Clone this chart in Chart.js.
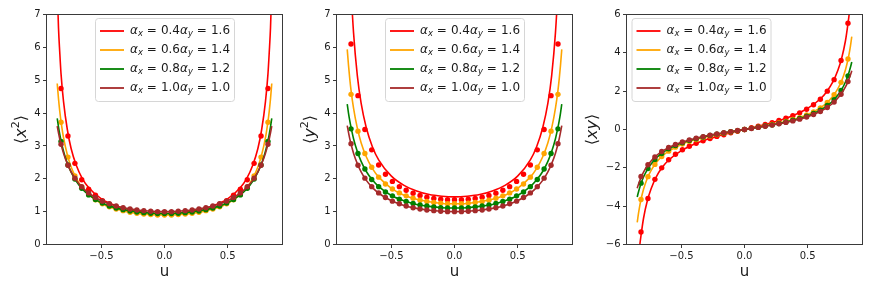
<!DOCTYPE html>
<html>
<head>
<meta charset="utf-8">
<script src="https://cdn.jsdelivr.net/npm/chart.js@4.4.0/dist/chart.umd.min.js"></script>
<style>
  body { margin: 0; background: #fff; }
  #wrap { position: relative; width: 872px; height: 291px; }
  #wrap canvas { position: absolute; top: 0; }
</style>
</head>
<body>
<div id="wrap">
  <canvas id="c1" width="290" height="291" style="left:0px"></canvas>
  <canvas id="c2" width="290" height="291" style="left:290px"></canvas>
  <canvas id="c3" width="292" height="291" style="left:580px"></canvas>
</div>
<script>
// series: alpha_x / alpha_y pairs and their colours
const alphaX = ['0.4', '0.6', '0.8', '1.0'];
const alphaY = ['1.6', '1.4', '1.2', '1.0'];
const colors = ['#ff0000', '#ffa500', '#008000', '#a52a2a'];

// u values of the solid curves and of the dots
const lineU = [-0.85,-0.84,-0.83,-0.82,-0.80,-0.77,-0.74,-0.70,-0.65,-0.60,-0.50,-0.40,-0.30,-0.20,-0.10,0,0.10,0.20,0.30,0.40,0.50,0.60,0.65,0.70,0.74,0.77,0.80,0.82,0.83,0.84,0.85];
const dotU = [-0.82,-0.765,-0.71,-0.656,-0.601,-0.547,-0.492,-0.437,-0.383,-0.328,-0.273,-0.219,-0.164,-0.109,-0.055,0,0.055,0.109,0.164,0.219,0.273,0.328,0.383,0.437,0.492,0.547,0.601,0.656,0.71,0.765,0.82];

const xTicks = [-0.5, 0, 0.5];
const sqTicks = [0, 1, 2, 3, 4, 5, 6, 7];
const xyTicks = [-6, -4, -2, 0, 2, 4, 6];

// <x^2>
const x2LineRed = [7.8,6.6,5.85,5.2,4.35,3.5,2.92,2.42,2.0,1.73,1.39,1.2,1.08,1.0,0.96,0.95,0.96,1.0,1.08,1.2,1.39,1.73,2.0,2.42,2.92,3.5,4.35,5.2,5.85,6.6,7.8];
const x2LineOrange = [4.90,4.44,4.06,3.75,3.25,2.73,2.36,2.02,1.72,1.52,1.25,1.10,1.00,0.94,0.91,0.90,0.91,0.94,1.00,1.10,1.25,1.52,1.72,2.02,2.36,2.73,3.25,3.75,4.06,4.44,4.90];
const x2LineGreen = [3.84,3.58,3.36,3.16,2.84,2.47,2.20,1.93,1.68,1.51,1.27,1.13,1.04,0.98,0.95,0.94,0.95,0.98,1.04,1.13,1.27,1.51,1.68,1.93,2.20,2.47,2.84,3.16,3.36,3.58,3.84];
const x2LineBrown = [3.60,3.40,3.21,3.05,2.78,2.46,2.21,1.96,1.73,1.56,1.33,1.19,1.10,1.04,1.01,1.00,1.01,1.04,1.10,1.19,1.33,1.56,1.73,1.96,2.21,2.46,2.78,3.05,3.21,3.40,3.60];
const x2DotRed = [4.75,3.30,2.47,1.97,1.68,1.50,1.33,1.23,1.15,1.09,1.04,1.00,0.97,0.95,0.94,0.94,0.94,0.95,0.97,1.00,1.04,1.09,1.15,1.23,1.33,1.50,1.68,1.97,2.47,3.30,4.75];
const x2DotOrange = [3.72,2.66,2.09,1.75,1.52,1.36,1.24,1.15,1.08,1.03,0.98,0.95,0.93,0.91,0.90,0.90,0.90,0.91,0.93,0.95,0.98,1.03,1.08,1.15,1.24,1.36,1.52,1.75,2.09,2.66,3.72];
const x2DotGreen = [3.14,2.42,1.99,1.71,1.51,1.37,1.26,1.17,1.11,1.06,1.02,0.99,0.97,0.95,0.94,0.94,0.94,0.95,0.97,0.99,1.02,1.06,1.11,1.17,1.26,1.37,1.51,1.71,1.99,2.42,3.14];
const x2DotBrown = [3.05,2.41,2.02,1.76,1.57,1.43,1.32,1.24,1.17,1.12,1.08,1.05,1.03,1.01,1.00,1.00,1.00,1.01,1.03,1.05,1.08,1.12,1.17,1.24,1.32,1.43,1.57,1.76,2.02,2.41,3.05];

// <y^2>
const y2LineRed = [11.6,9.97,8.75,7.81,6.45,5.14,4.30,3.57,2.97,2.57,2.08,1.80,1.63,1.52,1.47,1.45,1.47,1.52,1.63,1.80,2.08,2.57,2.97,3.57,4.30,5.14,6.45,7.81,8.75,9.97,11.6];
const y2LineOrange = [5.94,5.46,5.05,4.70,4.15,3.54,3.10,2.68,2.31,2.05,1.71,1.50,1.38,1.30,1.25,1.24,1.25,1.30,1.38,1.50,1.71,2.05,2.31,2.68,3.10,3.54,4.15,4.70,5.05,5.46,5.94];
const y2LineGreen = [4.27,4.00,3.77,3.57,3.22,2.83,2.53,2.23,1.96,1.76,1.49,1.33,1.22,1.16,1.12,1.11,1.12,1.16,1.22,1.33,1.49,1.76,1.96,2.23,2.53,2.83,3.22,3.57,3.77,4.00,4.27];
const y2LineBrown = [3.62,3.41,3.22,3.06,2.78,2.46,2.21,1.96,1.73,1.56,1.33,1.19,1.10,1.04,1.01,1.00,1.01,1.04,1.10,1.19,1.33,1.56,1.73,1.96,2.21,2.46,2.78,3.06,3.22,3.41,3.62];
const y2DotRed = [6.10,4.53,3.50,2.88,2.42,2.14,1.92,1.76,1.65,1.56,1.49,1.44,1.40,1.38,1.36,1.36,1.36,1.38,1.40,1.44,1.49,1.56,1.65,1.76,1.92,2.14,2.42,2.88,3.50,4.53,6.10];
const y2DotOrange = [4.57,3.45,2.77,2.35,2.05,1.84,1.69,1.57,1.48,1.41,1.35,1.31,1.28,1.26,1.24,1.24,1.24,1.26,1.28,1.31,1.35,1.41,1.48,1.57,1.69,1.84,2.05,2.35,2.77,3.45,4.57];
const y2DotGreen = [3.52,2.77,2.30,1.98,1.76,1.60,1.48,1.38,1.31,1.25,1.20,1.17,1.14,1.12,1.11,1.11,1.11,1.12,1.14,1.17,1.20,1.25,1.31,1.38,1.48,1.60,1.76,1.98,2.30,2.77,3.52];
const y2DotBrown = [3.07,2.41,2.02,1.76,1.57,1.43,1.32,1.24,1.17,1.12,1.08,1.05,1.03,1.01,1.00,1.00,1.00,1.01,1.03,1.05,1.08,1.12,1.17,1.24,1.32,1.43,1.57,1.76,2.02,2.41,3.07];

// <xy>
const xyLineRed = [-7.55,-6.72,-6.05,-5.53,-4.63,-3.72,-3.09,-2.48,-1.96,-1.59,-1.10,-0.77,-0.52,-0.33,-0.16,0,0.16,0.33,0.52,0.77,1.10,1.59,1.96,2.48,3.09,3.72,4.63,5.53,6.05,6.72,7.55];
const xyLineOrange = [-4.85,-4.38,-3.98,-3.65,-3.12,-2.54,-2.13,-1.73,-1.38,-1.13,-0.78,-0.55,-0.38,-0.24,-0.11,0,0.11,0.24,0.38,0.55,0.78,1.13,1.38,1.73,2.13,2.54,3.12,3.65,3.98,4.38,4.85];
const xyLineGreen = [-3.52,-3.26,-3.03,-2.82,-2.48,-2.09,-1.80,-1.49,-1.22,-1.01,-0.71,-0.51,-0.35,-0.22,-0.11,0,0.11,0.22,0.35,0.51,0.71,1.01,1.22,1.49,1.80,2.09,2.48,2.82,3.03,3.26,3.52];
const xyLineBrown = [-3.06,-2.86,-2.67,-2.50,-2.22,-1.89,-1.64,-1.37,-1.13,-0.94,-0.67,-0.48,-0.33,-0.21,-0.10,0,0.10,0.21,0.33,0.48,0.67,0.94,1.13,1.37,1.64,1.89,2.22,2.50,2.67,2.86,3.06];
const xyDotRed = [-5.35,-3.60,-2.60,-2.00,-1.58,-1.29,-1.06,-0.87,-0.72,-0.59,-0.47,-0.36,-0.27,-0.17,-0.09,0,0.09,0.17,0.27,0.36,0.47,0.59,0.72,0.87,1.06,1.29,1.58,2.00,2.60,3.60,5.55];
const xyDotOrange = [-3.65,-2.46,-1.82,-1.41,-1.13,-0.92,-0.76,-0.62,-0.52,-0.42,-0.34,-0.26,-0.19,-0.12,-0.06,0,0.06,0.12,0.19,0.26,0.34,0.42,0.52,0.62,0.76,0.92,1.13,1.41,1.82,2.46,3.68];
const xyDotGreen = [-2.80,-2.04,-1.56,-1.25,-1.01,-0.84,-0.69,-0.58,-0.48,-0.39,-0.31,-0.24,-0.18,-0.12,-0.06,0,0.06,0.12,0.18,0.24,0.31,0.39,0.48,0.58,0.69,0.84,1.01,1.25,1.56,2.04,2.80];
const xyDotBrown = [-2.45,-1.84,-1.43,-1.15,-0.94,-0.78,-0.65,-0.54,-0.45,-0.37,-0.30,-0.23,-0.17,-0.11,-0.055,0,0.055,0.11,0.17,0.23,0.30,0.37,0.45,0.54,0.65,0.78,0.94,1.15,1.43,1.84,2.50];

const FONT = '"DejaVu Sans", sans-serif';
const INK = '#1a1a1a';
const AXIS = '#3a3a3a';

function toXY(xs, ys) {
    return xs.map((x, i) => ({x: x, y: ys[i]}));
}

function fmt(v, digits) {
    return (v < 0 ? '\u2212' : '') + Math.abs(v).toFixed(digits);
}

// draws a list of text runs (italic / sub / superscript), returns the end x
function runs(ctx, list, x, y, size, draw) {
    for (const r of list) {
        const small = r.sub || r.sup;
        const s = small ? size * 0.7 : size;
        ctx.font = (r.it ? 'italic ' : '') + s + 'px ' + FONT;
        const dy = r.sub ? size * 0.24 : (r.sup ? -size * 0.36 : 0);
        x += r.pre || 0;
        if (draw) ctx.fillText(r.t, x, y + dy);
        x += ctx.measureText(r.t).width + (r.post || 0);
    }
    return x;
}

function legendRuns(i) {
    return [
        {t: 'α', it: 1}, {t: 'x', it: 1, sub: 1},
        {t: '=', pre: 4, post: 4}, {t: alphaX[i]},
        {t: 'α', it: 1}, {t: 'y', it: 1, sub: 1},
        {t: '=', pre: 4, post: 4}, {t: alphaY[i]}
    ];
}

const decor = {
    id: 'decor',
    afterDraw(chart, args, opts) {
        const {ctx, chartArea: a} = chart;
        ctx.save();
        // frame
        ctx.strokeStyle = AXIS;
        ctx.lineWidth = 1;
        ctx.strokeRect(a.left, a.top, a.right - a.left, a.bottom - a.top);

        // y axis label, rotated
        ctx.fillStyle = INK;
        ctx.textBaseline = 'middle';
        ctx.save();
        ctx.translate(opts.labelX, (a.top + a.bottom) / 2);
        ctx.rotate(-Math.PI / 2);
        const w = runs(ctx, opts.label, 0, 0, 16, false);
        runs(ctx, opts.label, -w / 2, 0, 16, true);
        ctx.restore();

        // legend box
        const bw = 139, bh = 83;
        const bx = opts.legend === 'left' ? a.left + 5 : (a.left + a.right) / 2 - bw / 2;
        const by = a.top + 3.5;
        ctx.beginPath();
        ctx.roundRect(bx + 0.5, by + 0.5, bw, bh, 3);
        ctx.fillStyle = 'rgba(255,255,255,0.8)';
        ctx.fill();
        ctx.strokeStyle = '#d6d6d6';
        ctx.stroke();
        for (let i = 0; i < alphaX.length; i++) {
            const ry = by + 13 + i * 19;
            ctx.strokeStyle = colors[i];
            ctx.lineWidth = 1.8;
            ctx.beginPath();
            ctx.moveTo(bx + 5, ry);
            ctx.lineTo(bx + 29, ry);
            ctx.stroke();
            ctx.fillStyle = INK;
            runs(ctx, legendRuns(i), bx + 35, ry, 12, true);
        }
        ctx.restore();
    }
};

function makePanel(id, p) {
    const datasets = [];
    colors.forEach((c, i) => {
        const name = 'αx = ' + alphaX[i] + 'αy = ' + alphaY[i];
        datasets.push({
            type: 'line', label: name, data: toXY(lineU, p.lines[i]),
            borderColor: c, borderWidth: 1.6, pointRadius: 0,
            cubicInterpolationMode: 'monotone', order: 8 - 2 * i
        });
        datasets.push({
            type: 'scatter', label: name, data: toXY(dotU, p.dots[i]),
            backgroundColor: c, pointRadius: 2.7, pointBorderWidth: 0,
            order: 7 - 2 * i
        });
    });

    const tickFont = {family: FONT, size: 10};
    const grid = {display: true, drawOnChartArea: false, drawTicks: true, tickLength: 3.5, color: AXIS};

    return new Chart(document.getElementById(id), {
        data: {datasets: datasets},
        options: {
            responsive: false,
            devicePixelRatio: 1,
            animation: false,
            layout: {padding: {left: 0, right: p.right, top: 14.5, bottom: 0}},
            scales: {
                x: {
                    type: 'linear', min: -0.935, max: 0.935,
                    afterBuildTicks: sc => { sc.ticks = xTicks.map(v => ({value: v})); },
                    afterFit: sc => { sc.height = 46.5; },
                    ticks: {callback: v => fmt(v, 1), font: tickFont, color: INK, padding: 2.5, maxRotation: 0},
                    grid: grid,
                    border: {display: false},
                    title: {display: true, text: 'u', font: {family: FONT, size: 15}, color: INK, padding: {top: 0, bottom: 10}}
                },
                y: {
                    type: 'linear', min: p.yTicks[0], max: p.yTicks[p.yTicks.length - 1],
                    afterBuildTicks: sc => { sc.ticks = p.yTicks.map(v => ({value: v})); },
                    afterFit: sc => { sc.width = 46.5; },
                    ticks: {callback: v => fmt(v, 0), font: tickFont, color: INK, padding: 2.5},
                    grid: grid,
                    border: {display: false}
                }
            },
            plugins: {
                legend: {display: false},
                tooltip: {enabled: false},
                decor: {label: p.label, labelX: p.labelX, legend: p.legend}
            }
        },
        plugins: [decor]
    });
}

makePanel('c1', {
    lines: [x2LineRed, x2LineOrange, x2LineGreen, x2LineBrown],
    dots: [x2DotRed, x2DotOrange, x2DotGreen, x2DotBrown],
    yTicks: sqTicks, right: 7.5, labelX: 21.5, legend: 'center',
    label: [{t: '⟨'}, {t: 'x', it: 1}, {t: '2', sup: 1}, {t: '⟩'}]
});
makePanel('c2', {
    lines: [y2LineRed, y2LineOrange, y2LineGreen, y2LineBrown],
    dots: [y2DotRed, y2DotOrange, y2DotGreen, y2DotBrown],
    yTicks: sqTicks, right: 7.5, labelX: 21, legend: 'center',
    label: [{t: '⟨'}, {t: 'y', it: 1}, {t: '2', sup: 1}, {t: '⟩'}]
});
makePanel('c3', {
    lines: [xyLineRed, xyLineOrange, xyLineGreen, xyLineBrown],
    dots: [xyDotRed, xyDotOrange, xyDotGreen, xyDotBrown],
    yTicks: xyTicks, right: 9.5, labelX: 12.5, legend: 'left',
    label: [{t: '⟨'}, {t: 'xy', it: 1}, {t: '⟩'}]
});
</script>
</body>
</html>
